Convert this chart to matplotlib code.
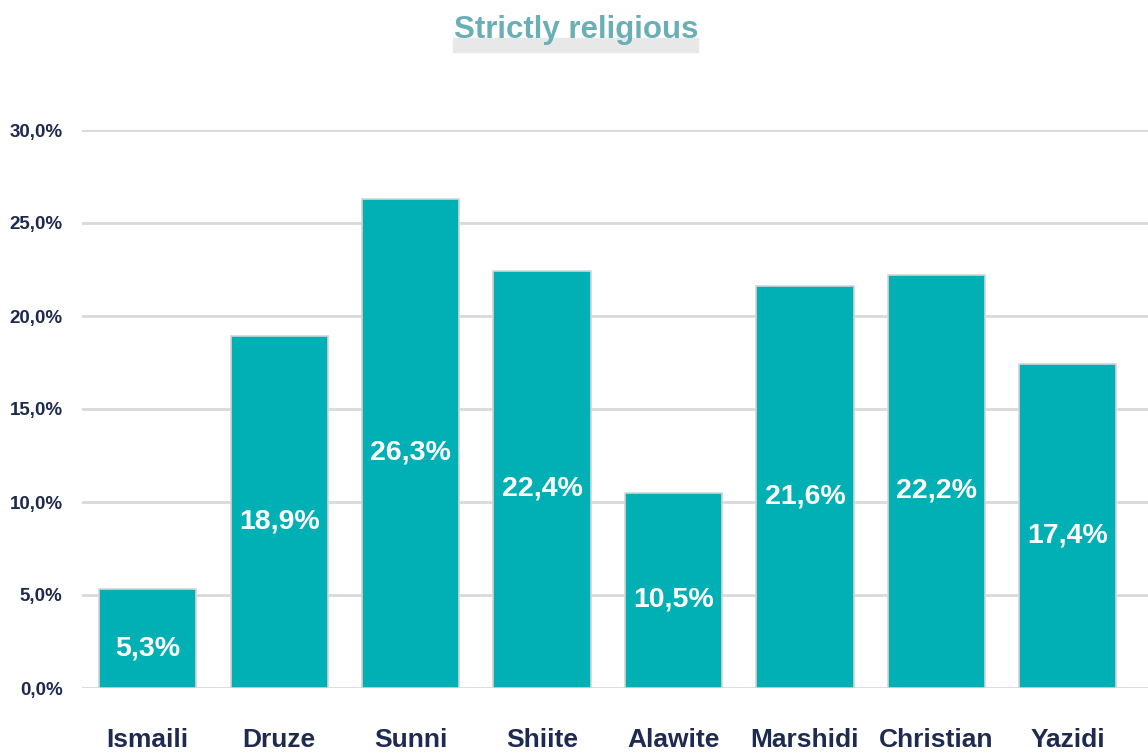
import matplotlib
matplotlib.use('Agg')
import matplotlib.pyplot as plt
from matplotlib.patches import Rectangle

# chart data
categories = ['Ismaili', 'Druze', 'Sunni', 'Shiite', 'Alawite', 'Marshidi', 'Christian', 'Yazidi']
values = [5.3, 18.9, 26.3, 22.4, 10.5, 21.6, 22.2, 17.4]
yticks = [0, 5, 10, 15, 20, 25, 30]
title = 'Strictly religious'

plt.rcParams['font.family'] = ['Liberation Sans', 'DejaVu Sans']

BAR = '#00B0B4'
NAVY = '#1E2A4F'

fig = plt.figure(figsize=(11.48, 7.53), dpi=100)
ax = fig.add_axes([82 / 1148, 1 - 688 / 753, 1 - 82 / 1148, (688 - 130) / 753])

x = range(len(categories))
ax.bar(x, values, width=0.74, color=BAR, edgecolor='#D5D5D5', linewidth=1.2, zorder=3)

# value labels sit a touch below the middle of each bar
for i, v in zip(x, values):
    ax.text(i, v / 2 - 0.5, f'{v:.1f}%'.replace('.', ','), ha='center', va='center',
            color='white', fontsize=20.5, fontweight='bold', zorder=4)

ax.set_xlim(-0.5, 7.61)
ax.set_ylim(0, 30)
ax.set_yticks(yticks)
ax.set_yticklabels([f'{t:.1f}%'.replace('.', ',') for t in yticks])
ax.set_xticks(list(x))
ax.set_xticklabels(categories)

ax.grid(axis='y', color='#D9D9D9', linewidth=2, zorder=0)
ax.set_axisbelow(True)
for s in ax.spines.values():
    s.set_visible(False)

ax.tick_params(axis='y', length=0, pad=14, labelsize=13.5, labelcolor=NAVY)
ax.tick_params(axis='x', length=0, pad=29, labelsize=19, labelcolor=NAVY)
for lab in ax.get_yticklabels() + ax.get_xticklabels():
    lab.set_fontweight('bold')

# title with grey highlight under the lower half
fig.patches.append(Rectangle((453 / 1148, 1 - 52 / 753), 245 / 1148, 14 / 753,
                             transform=fig.transFigure, color='#E8E8E8', zorder=0))
fig.text(576 / 1148, 1 - 30 / 753, title, ha='center', va='center',
         fontsize=22.5, fontweight='bold', color='#6BAFB6', zorder=2)

fig.savefig('out.png', dpi=100)
